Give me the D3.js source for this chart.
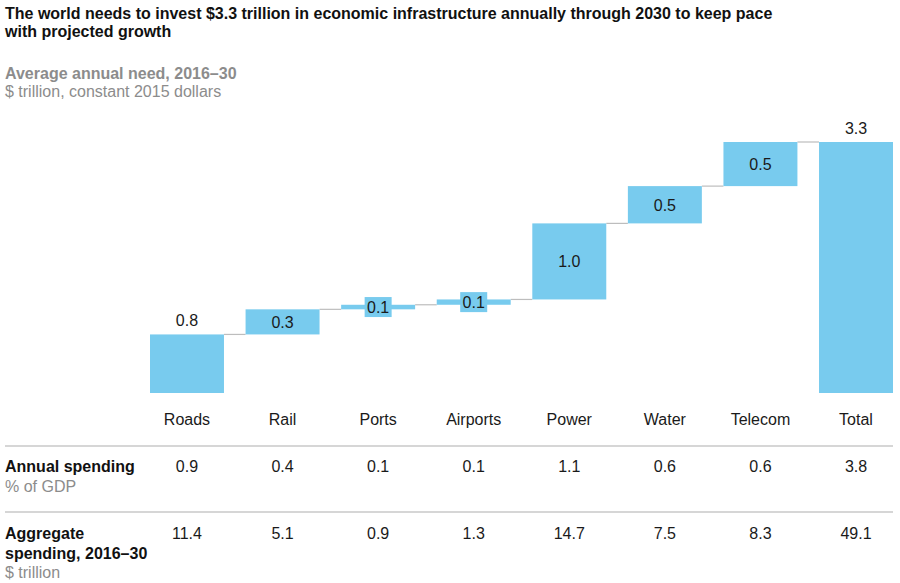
<!DOCTYPE html>
<html>
<head>
<meta charset="utf-8">
<script src="https://cdn.jsdelivr.net/npm/d3@7"></script>
<style>
  body { margin: 0; background: #fff; }
  text { font-family: "Liberation Sans", Arial, sans-serif; }
</style>
</head>
<body>
<div id="chart-area"></div>
<script>

// Data
let categories = ["Roads", "Rail", "Ports", "Airports", "Power", "Water", "Telecom", "Total"];
let needs = [0.77, 0.33, 0.06, 0.07, 1.0, 0.49, 0.58];   // $ trillion per year
let total = 3.3;
let needLabels = ["0.8", "0.3", "0.1", "0.1", "1.0", "0.5", "0.5", "3.3"];
let annualSpending = ["0.9", "0.4", "0.1", "0.1", "1.1", "0.6", "0.6", "3.8"];
let aggregateSpending = ["11.4", "5.1", "0.9", "1.3", "14.7", "7.5", "8.3", "49.1"];

let width = 900, height = 583;
let fs = 16;

let svg = d3.select("#chart-area").append("svg")
    .attr("width", width)
    .attr("height", height);

// Scales
let x = d3.scaleBand()
    .domain(categories)
    .range([150, 893])
    .paddingInner(0.226)
    .paddingOuter(0);

let y = d3.scaleLinear()
    .domain([0, total])
    .range([393, 142]);

// build waterfall steps
let steps = [];
let run = 0;
needs.forEach((v, i) => {
    steps.push({cat: categories[i], start: run, end: run + v, label: needLabels[i]});
    run += v;
});
steps.push({cat: "Total", start: 0, end: total, label: needLabels[7], total: true});

let blue = "#78cbee";

// Title
let title = svg.append("g").attr("font-weight", "bold").attr("font-size", fs).attr("fill", "#111");
title.append("text").attr("x", 5).attr("y", 19).text("The world needs to invest $3.3 trillion in economic infrastructure annually through 2030 to keep pace");
title.append("text").attr("x", 5).attr("y", 37).text("with projected growth");

svg.append("text").attr("x", 5).attr("y", 79)
    .attr("font-size", fs).attr("font-weight", "bold").attr("fill", "#8c8c8c")
    .text("Average annual need, 2016–30");
svg.append("text").attr("x", 5).attr("y", 97)
    .attr("font-size", fs).attr("fill", "#8c8c8c")
    .text("$ trillion, constant 2015 dollars");

// Connectors
let connectors = svg.append("g");
steps.slice(0, -1).forEach((d, i) => {
    let next = steps[i + 1];
    connectors.append("line")
        .attr("x1", x(d.cat) + x.bandwidth())
        .attr("x2", x(next.cat))
        .attr("y1", y(d.end))
        .attr("y2", y(d.end))
        .attr("stroke", "#bdbdbd")
        .attr("stroke-width", 1.2);
});

// Bars
svg.append("g").selectAll("rect")
    .data(steps)
    .enter()
    .append("rect")
    .attr("x", d => x(d.cat))
    .attr("y", d => y(d.end))
    .attr("width", x.bandwidth())
    .attr("height", d => y(d.start) - y(d.end))
    .attr("fill", blue);

// Value labels
let labels = svg.append("g").attr("font-size", fs).attr("fill", "#1a1a1a").attr("text-anchor", "middle");
steps.forEach(d => {
    let cx = x(d.cat) + x.bandwidth() / 2;
    let h = y(d.start) - y(d.end);
    let mid = (y(d.start) + y(d.end)) / 2;
    if (d.total || d.cat == "Roads") {
        labels.append("text").attr("x", cx).attr("y", y(d.end) - 8).text(d.label);
    } else if (h < 15) {
        // small box around the label
        labels.append("rect")
            .attr("x", cx - 13.5).attr("y", mid - 10)
            .attr("width", 27).attr("height", 20)
            .attr("fill", blue);
        labels.append("text").attr("x", cx).attr("y", mid + 6).text(d.label);
    } else {
        labels.append("text").attr("x", cx).attr("y", mid + 6).text(d.label);
    }
});

// Category labels
svg.append("g").selectAll("text")
    .data(categories)
    .enter()
    .append("text")
    .attr("x", d => x(d) + x.bandwidth() / 2)
    .attr("y", 425)
    .attr("text-anchor", "middle")
    .attr("font-size", fs)
    .attr("fill", "#1a1a1a")
    .text(d => d);

// Table rules
[446, 512].forEach(ly => {
    svg.append("line")
        .attr("x1", 5).attr("x2", 893)
        .attr("y1", ly).attr("y2", ly)
        .attr("stroke", "#c8c8c8")
        .attr("stroke-width", 1.5);
});

// Row headers
let rows = svg.append("g").attr("font-size", fs);
rows.append("text").attr("x", 5).attr("y", 472).attr("font-weight", "bold").attr("fill", "#111").text("Annual spending");
rows.append("text").attr("x", 5).attr("y", 492).attr("fill", "#8c8c8c").text("% of GDP");
rows.append("text").attr("x", 5).attr("y", 539).attr("font-weight", "bold").attr("fill", "#111").text("Aggregate");
rows.append("text").attr("x", 5).attr("y", 559).attr("font-weight", "bold").attr("fill", "#111").text("spending, 2016–30");
rows.append("text").attr("x", 5).attr("y", 578).attr("fill", "#8c8c8c").text("$ trillion");

// Row values
[[annualSpending, 472], [aggregateSpending, 539]].forEach(([vals, ry]) => {
    svg.append("g").selectAll("text")
        .data(vals)
        .enter()
        .append("text")
        .attr("x", (d, i) => x(categories[i]) + x.bandwidth() / 2)
        .attr("y", ry)
        .attr("text-anchor", "middle")
        .attr("font-size", fs)
        .attr("fill", "#1a1a1a")
        .text(d => d);
});

</script>
</body>
</html>
